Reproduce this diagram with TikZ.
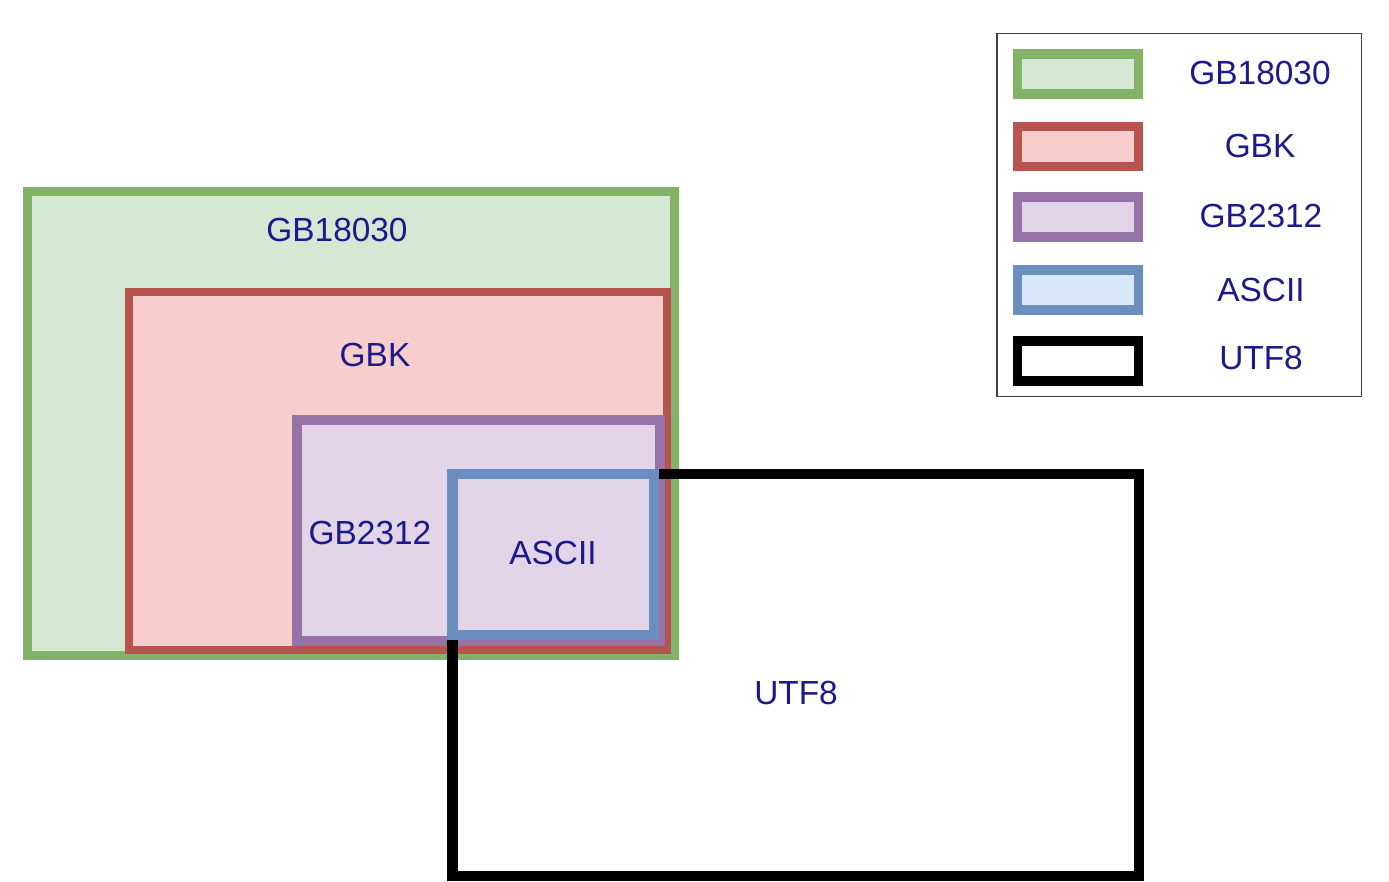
\documentclass[tikz,border=0pt]{standalone}
\usepackage{fontspec}
\setmainfont{Liberation Sans}
\usepackage{xcolor}
\usetikzlibrary{positioning}

\definecolor{gbgreen}{HTML}{82B366}
\definecolor{gbgreenfill}{HTML}{D5E8D4}
\definecolor{gbkred}{HTML}{B85450}
\definecolor{gbkredfill}{HTML}{F8CECC}
\definecolor{gbpurple}{HTML}{9673A6}
\definecolor{gbpurplefill}{HTML}{E1D5E7}
\definecolor{asciiblue}{HTML}{6C8EBF}
\definecolor{asciibluefill}{HTML}{DAE8FC}
\definecolor{labelblue}{RGB}{26,26,140}

\begin{document}
\begin{tikzpicture}[x=0.01cm,y=-0.01cm,
  lbl/.style={text=labelblue,font=\fontsize{9.5}{11}\selectfont},
  swatch/.style={draw,minimum width=1.21cm,minimum height=0.40cm,inner sep=0pt,line width=2.7pt}]
  \useasboundingbox (0,0) rectangle (1389,881);
  % nested sets
  \filldraw[draw=gbgreen,fill=gbgreenfill,line width=2.3pt] (27.5,191.5) rectangle (674.5,655.5);
  \filldraw[draw=gbkred,fill=gbkredfill,line width=2.3pt] (129,292) rectangle (667,650);
  \filldraw[draw=gbpurple,fill=gbpurplefill,line width=2.8pt] (297,420) rectangle (660,641);
  \draw[black,line width=2.85pt] (452.5,474) rectangle (1138.5,876);
  \draw[asciiblue,line width=2.85pt] (452.5,474) rectangle (654,635);
  \node[lbl] (gb18030) at (337,230) {GB18030};
  \node[lbl] (gbk) at (375,355) {GBK};
  \node[lbl] (gb2312) at (370,533) {GB2312};
  \node[lbl] (ascii) at (553,553) {ASCII};
  \node[lbl] (utf8) at (796,693) {UTF8};
  % legend
  \draw[black!75,line width=0.45pt] (997,33.5) rectangle (1361.5,396.5);
  \node[swatch,draw=gbgreen,fill=gbgreenfill] (keygreen) at (1078,74) {};
  \node[swatch,draw=gbkred,fill=gbkredfill] (keyred) at (1078,146.7) {};
  \node[swatch,draw=gbpurple,fill=gbpurplefill] (keypurple) at (1078,217) {};
  \node[swatch,draw=asciiblue,fill=asciibluefill] (keyblue) at (1078,290) {};
  \node[swatch,draw=black,fill=white] (keyblack) at (1078,361) {};
  \node[lbl] (txtgreen) at (1260,73) {GB18030};
  \node[lbl] (txtred) at (1260,146) {GBK};
  \node[lbl] (txtpurple) at (1261,216) {GB2312};
  \node[lbl] (txtblue) at (1261,290) {ASCII};
  \node[lbl] (txtblack) at (1261,358) {UTF8};
\end{tikzpicture}
\end{document}
